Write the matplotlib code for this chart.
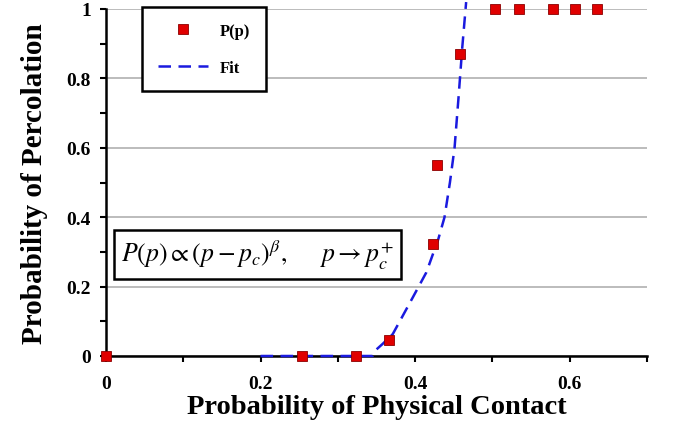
import numpy as np
import matplotlib.pyplot as plt
from matplotlib.ticker import MultipleLocator

plt.rcParams['font.family'] = ['Liberation Serif', 'DejaVu Serif']
plt.rcParams['mathtext.fontset'] = 'stix'

# 数据点 (读自图片)
p_data = [0.0, 0.254, 0.324, 0.366, 0.423, 0.428, 0.458, 0.503, 0.534, 0.579, 0.607, 0.635]
P_data = [0.0, 0.0, 0.0, 0.046, 0.323, 0.55, 0.87, 1.0, 1.0, 1.0, 1.0, 1.0]

# 拟合曲线 (读自图片)
p_fit = [0.2, 0.345, 0.348, 0.358, 0.371, 0.384, 0.397, 0.4145, 0.430,
         0.438, 0.445, 0.451, 0.456, 0.461, 0.466]
P_fit = [0.0, 0.0, 0.015, 0.035, 0.063, 0.116, 0.169, 0.241, 0.337,
         0.40, 0.50, 0.60, 0.741, 0.89, 1.02]

fig = plt.figure(figsize=(6.73, 4.35), dpi=100)
ax = fig.add_axes([106 / 673, 1 - 357 / 435, 541 / 673, 347 / 435])

ax.yaxis.grid(True, color='#b0b0b0', linewidth=1.2)
ax.set_axisbelow(True)

ax.plot(p_fit, P_fit, ls=(0, (5, 3)), color='#1a1adf', lw=1.8, label='Fit', clip_on=False, zorder=3)
ax.plot(p_data, P_data, 's', color='#e00000', mec='#8b0000', mew=0.6, ms=7.5,
        label='P(p)', clip_on=False, zorder=4)

ax.set_xlim(0, 0.7)
ax.set_ylim(0, 1)
ax.xaxis.set_minor_locator(MultipleLocator(0.1))
ax.yaxis.set_minor_locator(MultipleLocator(0.1))
ax.set_xticks([0, 0.2, 0.4, 0.6])
ax.set_xticklabels(['0', '0.2', '0.4', '0.6'])
ax.set_yticks([0, 0.2, 0.4, 0.6, 0.8, 1.0])
ax.set_yticklabels(['0', '0.2', '0.4', '0.6', '0.8', '1'])

for s in ['top', 'right']:
    ax.spines[s].set_visible(False)
for s in ['left', 'bottom']:
    ax.spines[s].set_linewidth(1.8)
    ax.spines[s].set_color('black')

ax.tick_params(axis='both', which='both', direction='out', length=4, width=1.5)
ax.tick_params(axis='x', which='both', pad=10)
ax.tick_params(axis='y', which='both', pad=7)
for lab in ax.get_xticklabels() + ax.get_yticklabels():
    lab.set_fontweight('bold')
    lab.set_fontsize(14)

ax.set_xlabel('Probability of Physical Contact', fontsize=20.5, fontweight='bold', labelpad=1)
ax.set_ylabel('Probability of Percolation', fontsize=21, fontweight='bold', labelpad=13)

leg = ax.legend(handles=ax.get_lines()[::-1], loc='upper left', bbox_to_anchor=(36 / 541, 1.006),
                borderaxespad=0, frameon=True, fancybox=False, borderpad=0.95, labelspacing=1.25,
                handlelength=3.0, handletextpad=0.7, prop={'weight': 'bold', 'size': 12})
leg.get_frame().set_edgecolor('black')
leg.get_frame().set_linewidth(1.8)
leg.get_frame().set_alpha(1)

ax.text(0.020, 0.293, r'$P(p) \propto (p - p_c)^{\beta}, \quad\ \ p \rightarrow p_c^{+}$',
        fontsize=18.5, va='center', ha='left', transform=ax.transData,
        bbox=dict(boxstyle='square,pad=0.28', fc='white', ec='black', lw=1.8))

fig.savefig('out.png', dpi=100)
